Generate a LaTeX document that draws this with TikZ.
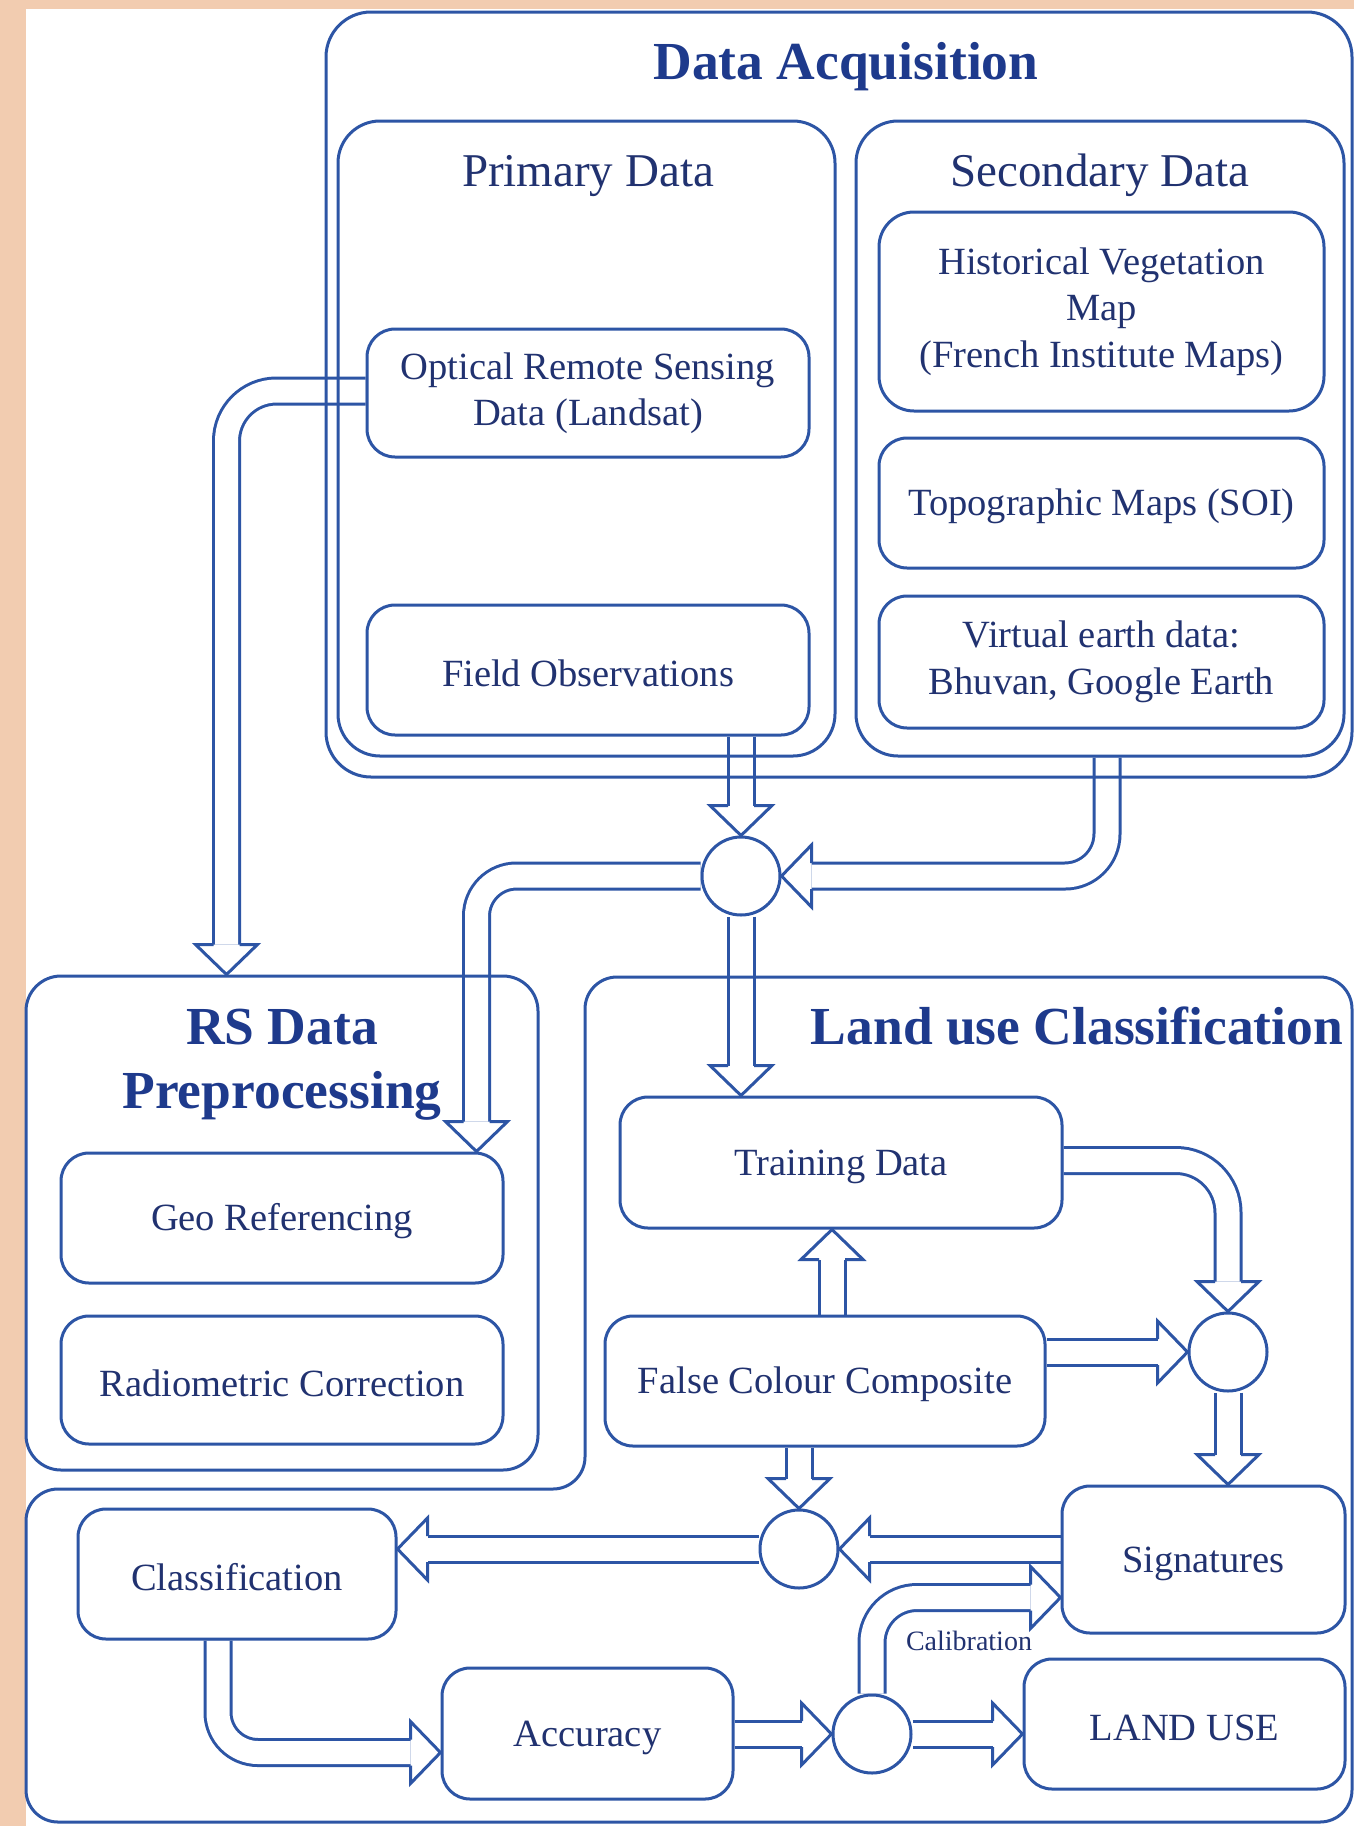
\documentclass[tikz,border=0pt]{standalone}
\usepackage{fontspec}
\setmainfont{Liberation Serif}
\pgfdeclarelayer{back}
\pgfdeclarelayer{bg}
\pgfsetlayers{back,bg,main}
\definecolor{peach}{RGB}{242,204,176}
\definecolor{linec}{RGB}{45,85,165}
\definecolor{textc}{RGB}{33,50,112}
\definecolor{titlec}{RGB}{30,58,140}
\tikzset{
  boxline/.style={draw=linec, line width=3pt},
  container/.style={boxline, inner sep=0pt},
  rbox/.style={boxline, rounded corners=28pt, inner sep=0pt, text=textc, align=center, font=\fontsize{38.5}{46.5}\selectfont, execute at begin node={\rule{0pt}{0.88em}}},
  hub/.style={boxline, circle, minimum size=78pt, inner sep=0pt},
  shaft/.style={draw=linec, line width=3pt, double=white, double distance=23pt},
  titletext/.style={text=titlec, inner sep=0pt, anchor=base, font=\fontsize{53.5}{64}\selectfont\bfseries},
  subtitle/.style={text=textc, inner sep=0pt, anchor=base, font=\fontsize{47}{56}\selectfont},
  arrhead/.pic={\draw[draw=linec, line width=3pt, line join=miter] (-30,13) -- (-30,31) -- (0,0) -- (-30,-31) -- (-30,-13);},
}
\begin{document}
\begin{tikzpicture}[x=1pt,y=-1pt]
\useasboundingbox (0,0) rectangle (1354,1826);
\begin{pgfonlayer}{back}
\fill[peach] (0,0) rectangle (1354,1826);
\fill[white] (26,9) rectangle (1354,1826);
\end{pgfonlayer}

% containers
\node[container, rounded corners=45pt, minimum width=1026pt, minimum height=765pt] (da) at (839,394.5) {};
\node[container, rounded corners=42pt, minimum width=497pt, minimum height=635pt] (pd) at (586.5,438.5) {};
\node[container, rounded corners=42pt, minimum width=488pt, minimum height=635pt] (sd) at (1100,438.5) {};
\node[container, rounded corners=35pt, minimum width=512pt, minimum height=494pt] (rs) at (282,1223) {};
\draw[boxline, rounded corners=32pt] (585,1300) -- (585,977) -- (1352,977) -- (1352,1822) -- (26,1822) -- (26,1489) -- (585,1489) [sharp corners] -- cycle;

% titles
\node[titletext] (tda) at (846,79) {Data Acquisition};
\node[subtitle] (tpd) at (588,186) {Primary Data};
\node[subtitle] (tsd) at (1100,186) {Secondary Data};
\node[titletext] (trs1) at (282,1044) {RS Data};
\node[titletext] (trs2) at (282,1108) {Preprocessing};
\node[titletext] (tluc) at (1077,1044) {Land use Classification};

% boxes
\node[rbox, minimum width=442pt, minimum height=128pt] (opt) at (588,393) {Optical Remote Sensing\\Data (Landsat)};
\node[rbox, minimum width=442pt, minimum height=130pt] (fo) at (588,670) {Field Observations};
\node[rbox, rounded corners=35pt, minimum width=445pt, minimum height=199pt] (hvm) at (1101.5,311.5) {Historical Vegetation\\Map\\(French Institute Maps)};
\node[rbox, minimum width=445pt, minimum height=130pt] (topo) at (1101.5,503) {Topographic Maps (SOI)};
\node[rbox, minimum width=445pt, minimum height=132pt] (ve) at (1101.5,662) {Virtual earth data:\\Bhuvan, Google Earth};
\node[rbox, minimum width=442pt, minimum height=130pt] (geo) at (282,1218) {Geo Referencing};
\node[rbox, minimum width=442pt, minimum height=128pt] (rad) at (282,1380) {Radiometric Correction};
\node[rbox, minimum width=442pt, minimum height=131pt] (td) at (841,1162.5) {Training Data};
\node[rbox, minimum width=440pt, minimum height=130pt] (fcc) at (825,1381) {False Colour Composite};
\node[rbox, minimum width=283pt, minimum height=147pt] (sig) at (1203.5,1559.5) {Signatures};
\node[rbox, minimum width=318pt, minimum height=130pt] (cls) at (237,1574) {Classification};
\node[rbox, minimum width=291pt, minimum height=131pt] (acc) at (587.5,1733.5) {Accuracy};
\node[rbox, minimum width=321pt, minimum height=130pt] (lu) at (1184.5,1724) {LAND USE};
\node[text=textc, inner sep=0pt, font=\fontsize{28}{34}\selectfont] (calib) at (969,1641) {Calibration};

% junctions
\node[hub] (c1) at (741,876) {};
\node[hub] (c2) at (1228,1352) {};
\node[hub] (c3) at (799,1549) {};
\node[hub] (c4) at (872,1734) {};

% arrow end points
\coordinate (t1) at ([xshift=202pt]rs.north west);
\coordinate (t4) at ([xshift=-28pt]geo.north east);
\coordinate (t5) at (c1.south |- td.north);
\coordinate (s6) at ([xshift=7pt]fcc.north);
\coordinate (t6) at (s6 |- td.south);
\coordinate (t9) at (c2.south |- sig.north);
\coordinate (t12) at (c3.west -| cls.east);
\coordinate (t13) at ([yshift=-19pt]acc.west);
\coordinate (t15) at (c4.east -| lu.west);
\coordinate (t16) at ([yshift=-38pt]sig.west);

\begin{pgfonlayer}{bg}
\draw[shaft, rounded corners=50pt] ([yshift=2pt]opt.west) -| ([yshift=30pt]t1);
\draw[shaft] (c1.north |- fo.south) -- ([yshift=30pt]c1.north);
\draw[shaft, rounded corners=42pt] ([xshift=7pt]sd.south) |- ([xshift=30pt]c1.east);
\draw[shaft, rounded corners=40pt] (c1.west) -| ([yshift=30pt]t4);
\draw[shaft] (c1.south) -- ([yshift=30pt]t5);
\draw[shaft] (s6) -- ([yshift=-30pt]t6);
\draw[shaft, rounded corners=52pt] ([yshift=2pt]td.east) -| ([yshift=30pt]c2.north);
\draw[shaft] (fcc.east |- c2.west) -- ([xshift=-30pt]c2.west);
\draw[shaft] (c2.south) -- ([yshift=30pt]t9);
\draw[shaft] (c3.north |- fcc.south) -- ([yshift=30pt]c3.north);
\draw[shaft] (sig.west |- c3.east) -- ([xshift=30pt]c3.east);
\draw[shaft] (c3.west) -- ([xshift=30pt]t12);
\draw[shaft, rounded corners=40pt] ([xshift=-19pt]cls.south) |- ([xshift=-30pt]t13);
\draw[shaft] (acc.east |- c4.west) -- ([xshift=-30pt]c4.west);
\draw[shaft] (c4.east) -- ([xshift=-30pt]t15);
\draw[shaft, rounded corners=45pt] (c4.north) |- ([xshift=-30pt]t16);
\end{pgfonlayer}

% arrow heads
\pic[rotate=-90] at (t1) {arrhead};
\pic[rotate=-90] at (c1.north) {arrhead};
\pic[rotate=180] at (c1.east) {arrhead};
\pic[rotate=-90] at (t4) {arrhead};
\pic[rotate=-90] at (t5) {arrhead};
\pic[rotate=90] at (t6) {arrhead};
\pic[rotate=-90] at (c2.north) {arrhead};
\pic at (c2.west) {arrhead};
\pic[rotate=-90] at (t9) {arrhead};
\pic[rotate=-90] at (c3.north) {arrhead};
\pic[rotate=180] at (c3.east) {arrhead};
\pic[rotate=180] at (t12) {arrhead};
\pic at (t13) {arrhead};
\pic at (c4.west) {arrhead};
\pic at (t15) {arrhead};
\pic at (t16) {arrhead};
\end{tikzpicture}
\end{document}
